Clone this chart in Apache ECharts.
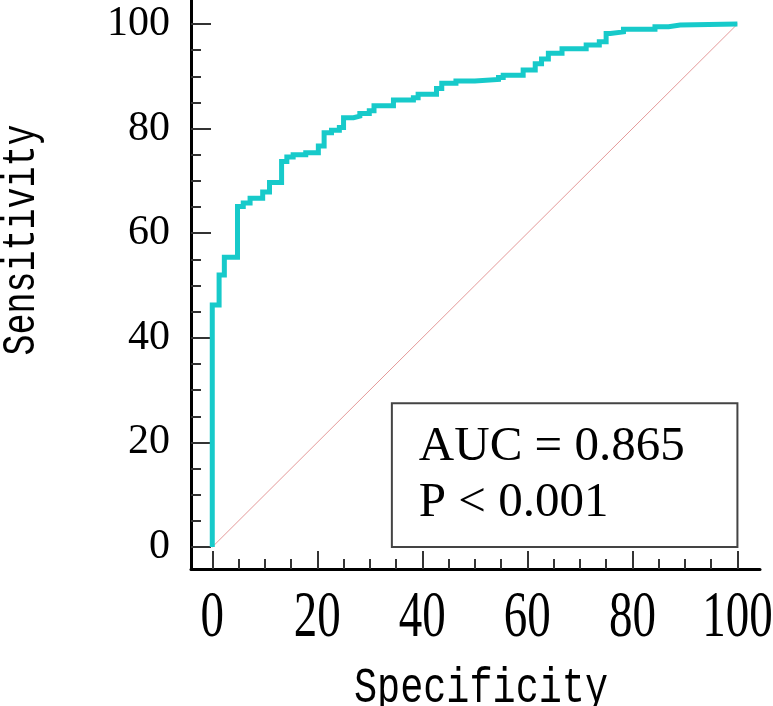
<!DOCTYPE html>
<html><head><meta charset="utf-8">
<script src="https://cdn.jsdelivr.net/npm/echarts@6/dist/echarts.min.js"></script>
<style>html,body{margin:0;padding:0;background:#fff}#c{width:773px;height:706px}</style>
</head><body><div id="c"></div>
<script>
// ROC curve points (x = Specificity axis value, y = Sensitivity), step at end
const specificity = [0, 0, 1.3, 2.3, 4.8, 5.9, 7.2, 9.6, 10.9, 13.2, 14.2, 15.4, 17.8, 20.2, 21.3, 22.7, 24.2, 25.0, 26.9, 28.1, 29.9, 30.8, 34.5, 38.3, 39.2, 42.7, 43.7, 46.4, 50.0, 54.5, 55.4, 59.2, 61.5, 62.7, 64.0, 66.6, 71.2, 73.7, 75.0, 75.8, 78.3, 84.3, 86.9, 89.1, 100];
const sensitivity = [0, 46.3, 52.0, 55.4, 65.1, 65.8, 66.7, 67.9, 69.7, 73.7, 74.6, 75.0, 75.4, 76.7, 79.2, 79.7, 80.2, 82.1, 82.4, 82.9, 83.4, 84.4, 85.5, 85.9, 86.6, 87.7, 88.7, 89.1, 89.4, 89.8, 90.2, 91.2, 92.4, 93.3, 94.4, 95.3, 96.0, 96.6, 98.2, 98.5, 99.0, 99.5, 99.8, 100, 100];
const diagonalX = [0, 100];
const diagonalY = [0, 100];
const majorTicks = [0, 20, 40, 60, 80, 100];
const minorTicks = [0, 5, 10, 15, 20, 25, 30, 35, 40, 45, 50, 55, 60, 65, 70, 75, 80, 85, 90, 95, 100];
const xTitle = 'Specificity';
const yTitle = 'Sensitivity';
const statLines = ['AUC = 0.865', 'P < 0.001'];
const boxCorner1 = [34.2, 27.5];
const boxCorner2 = [100, 0];

const rocData = specificity.map((x, i) => [x, sensitivity[i]]);
const diagData = diagonalX.map((x, i) => [x, diagonalY[i]]);

const serif = 'Liberation Serif';
const mono = 'Liberation Mono';
const XMIN = -4.05, XMAX = 104.3, YMIN = -4.2, YMAX = 104.6;

function axisPair(isX) {
  const base = {
    type: 'value', min: isX ? XMIN : YMIN, max: isX ? XMAX : YMAX,
    splitLine: { show: false }
  };
  return [
    Object.assign({}, base, {
      position: isX ? 'bottom' : 'left',
      axisLine: { show: true, onZero: false, lineStyle: { color: '#000', width: 3 } },
      axisTick: { show: true, inside: true, length: isX ? 18 : 20, customValues: majorTicks, lineStyle: { color: '#333', width: 2 } },
      axisLabel: { show: !isX, customValues: majorTicks, fontFamily: serif, fontSize: 42, color: '#000', margin: 21 }
    }),
    Object.assign({}, base, {
      position: isX ? 'bottom' : 'left',
      axisLine: { show: false, onZero: false },
      axisTick: { show: true, inside: true, length: 10, customValues: minorTicks, lineStyle: { color: '#333', width: 2 } },
      axisLabel: { show: false }
    })
  ];
}

const chart = echarts.init(document.getElementById('c'), null, { renderer: 'canvas' });
chart.setOption({
  animation: false,
  backgroundColor: '#fff',
  grid: { left: 191, right: 13, top: 0, bottom: 137, containLabel: false },
  xAxis: axisPair(true),
  yAxis: axisPair(false),
  series: [
    {
      type: 'line', data: diagData, symbol: 'none', xAxisIndex: 0, yAxisIndex: 0,
      lineStyle: { color: '#E59A9A', width: 1 }, z: 2,
      markArea: {
        silent: true,
        itemStyle: { color: 'rgba(0,0,0,0)', borderColor: '#444', borderWidth: 2 },
        label: {
          show: true, position: 'insideLeft', distance: 28,
          formatter: statLines.join('\n'),
          fontFamily: serif, fontSize: 49, lineHeight: 56, color: '#000', align: 'left'
        },
        data: [[{ coord: boxCorner1 }, { coord: boxCorner2 }]]
      }
    },
    {
      type: 'line', data: rocData, step: 'end', symbol: 'none', xAxisIndex: 0, yAxisIndex: 0,
      lineStyle: { color: '#17CACA', width: 5, join: 'miter', cap: 'butt' }, z: 3
    }
  ]
});

// x tick labels positioned through the axis scale (vertically stretched like the reference)
const xLabelY = chart.convertToPixel({ yAxisIndex: 0 }, YMIN) + 50;
const graphics = majorTicks.map(v => ({
  type: 'text', x: chart.convertToPixel({ xAxisIndex: 0 }, v), y: xLabelY, z: 10,
  scaleY: 1.38,
  style: { text: String(v), fontFamily: serif, fontSize: 47, fill: '#000', align: 'center', verticalAlign: 'middle' }
}));
graphics.push({
  type: 'text', x: 481, y: 689, z: 10,
  scaleY: 1.3,
  style: { text: xTitle, fontFamily: mono, fontSize: 38.5, fill: '#000', align: 'center', verticalAlign: 'middle' }
});
graphics.push({
  type: 'text', x: 22, y: 240, rotation: Math.PI / 2, z: 10,
  scaleY: 1.3,
  style: { text: yTitle, fontFamily: mono, fontSize: 35, fill: '#000', align: 'center', verticalAlign: 'middle' }
});
chart.setOption({ graphic: graphics });
</script>
</body></html>
